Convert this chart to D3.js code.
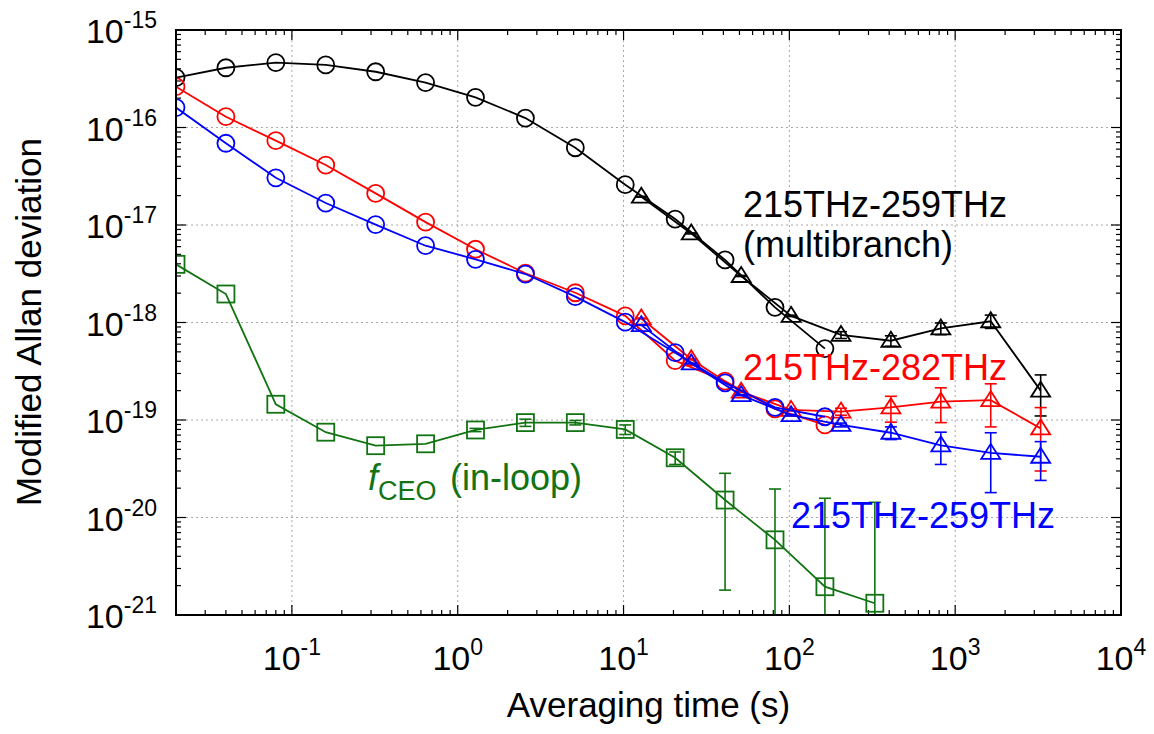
<!DOCTYPE html>
<html>
<head>
<meta charset="utf-8">
<script src="https://cdn.jsdelivr.net/npm/d3@7"></script>
<style>
  body { margin: 0; background: #fff; }
  text { font-family: "Liberation Sans", Arial, Helvetica, sans-serif; }
</style>
</head>
<body>
<div id="chart"></div>
<script>
// averaging times (s)
var tau = [0.02, 0.04, 0.08, 0.16, 0.32, 0.64, 1.28, 2.56, 5.12, 10.24, 20.48, 40.96, 81.92, 163.84, 327.68];
var tauTri = [12.8, 25.6, 51.2, 102.4, 204.8, 409.6, 819.2, 1638.4, 3276.8];

// 215THz-259THz (multibranch), black
var multiCircle = [3.24e-16, 4.10e-16, 4.62e-16, 4.38e-16, 3.73e-16, 2.88e-16, 2.04e-16, 1.25e-16, 6.2e-17, 2.59e-17, 1.15e-17, 4.38e-18, 1.43e-18, 5.4e-19];
var multiTri = [1.95e-17, 8.2e-18, 3.0e-18, 1.17e-18, 7.45e-19, 6.5e-19, 8.7e-19, 1.03e-18, 2.0e-19];
var multiTriErr = [2e-19, 1e-19, 4e-20, 2e-20, 6e-20, 8e-20, 1.2e-19, 1.6e-19, 9e-20];

// 215THz-282THz, red
var redCircle = [2.62e-16, 1.29e-16, 7.33e-17, 4.12e-17, 2.11e-17, 1.07e-17, 5.64e-18, 3.2e-18, 2.02e-18, 1.17e-18, 4.06e-19, 2.5e-19, 1.3e-19, 8.9e-20];
var redTri = [1.1e-18, 4.2e-19, 1.95e-19, 1.27e-19, 1.22e-19, 1.35e-19, 1.54e-19, 1.6e-19, 8.2e-20];
var redTriErr = [1e-20, 5e-21, 3e-21, 3e-21, 1e-20, 4e-20, 6e-20, 7.5e-20, 5.2e-20];

// 215THz-259THz, blue
var blueCircle = [1.6e-16, 6.89e-17, 3.05e-17, 1.68e-17, 1.01e-17, 6.13e-18, 4.45e-18, 3.14e-18, 1.84e-18, 1.01e-18, 4.9e-19, 2.4e-19, 1.35e-19, 1.08e-19];
var blueTri = [9.4e-19, 3.8e-19, 1.8e-19, 1.12e-19, 8.9e-20, 7.4e-20, 5.5e-20, 4.6e-20, 4.2e-20];
var blueTriErr = [5e-21, 3e-21, 2e-21, 2e-21, 4e-21, 1.1e-20, 2e-20, 2.8e-20, 1.8e-20];

// fCEO (in-loop), green
var ceoSquare = [3.95e-18, 1.96e-18, 1.45e-19, 7.5e-20, 5.45e-20, 5.7e-20, 7.9e-20, 9.4e-20, 9.4e-20, 8.0e-20, 4.1e-20, 1.51e-20, 5.9e-21, 1.95e-21, 1.32e-21];
var ceoErr = [0, 0, 0, 0, 0, 0, 3e-21, 8e-21, 5e-21, 9e-21, 6e-21, 1.33e-20, 1.37e-20, 1.38e-20, 1.3e-20];

var xTickExp = [-1, 0, 1, 2, 3, 4];
var yTickExp = [-15, -16, -17, -18, -19, -20, -21];

var width = 1154, height = 734;
var margin = { top: 30, right: 33, bottom: 119, left: 176 };
var w = width - margin.left - margin.right;
var h = height - margin.top - margin.bottom;

var dark_green = '#117311';

var svg = d3.select('#chart').append('svg')
    .attr('width', width)
    .attr('height', height);

var x = d3.scaleLog().domain([0.02, 1e4]).range([0, w]);
var y = d3.scaleLog().domain([1e-21, 1e-15]).range([h, 0]);

var g = svg.append('g').attr('transform', `translate(${margin.left},${margin.top})`);

svg.append('defs').append('clipPath').attr('id', 'plotclip')
    .append('rect').attr('x', 0).attr('y', 0).attr('width', w).attr('height', h);

// grid at major ticks
var majorX = xTickExp.map(function(e) { return Math.pow(10, e); });
var majorY = yTickExp.map(function(e) { return Math.pow(10, e); });

g.append('g').selectAll('line.gx')
    .data(majorX.filter(function(v) { return v < 1e4; }))
    .enter().append('line')
    .attr('x1', d => x(d)).attr('x2', d => x(d))
    .attr('y1', 0).attr('y2', h)
    .attr('stroke', '#a8a8a8').attr('stroke-width', 1).attr('stroke-dasharray', '2,3');

g.append('g').selectAll('line.gy')
    .data(majorY.filter(function(v) { return v > 1e-21 && v < 1e-15; }))
    .enter().append('line')
    .attr('x1', 0).attr('x2', w)
    .attr('y1', d => y(d)).attr('y2', d => y(d))
    .attr('stroke', '#a8a8a8').attr('stroke-width', 1).attr('stroke-dasharray', '2,3');

// minor tick values
var minorX = [];
[-2, -1, 0, 1, 2, 3].forEach(function(e) {
    for (var k = 2; k <= 9; k++) {
        var v = k * Math.pow(10, e);
        if (v > 0.02 && v < 1e4) minorX.push(v);
    }
});
var minorY = [];
[-21, -20, -19, -18, -17, -16].forEach(function(e) {
    for (var k = 2; k <= 9; k++) minorY.push(k * Math.pow(10, e));
});

function tickLines(data, scale, horizontal, len, at, dir) {
    g.append('g').selectAll('line')
        .data(data).enter().append('line')
        .attr('x1', d => horizontal ? scale(d) : at)
        .attr('x2', d => horizontal ? scale(d) : at + dir * len)
        .attr('y1', d => horizontal ? at : scale(d))
        .attr('y2', d => horizontal ? at + dir * len : scale(d))
        .attr('stroke', '#000').attr('stroke-width', 1.2);
}
tickLines(majorX, x, true, 10, h, -1);
tickLines(minorX, x, true, 5, h, -1);
tickLines(majorX, x, true, 10, 0, 1);
tickLines(minorX, x, true, 5, 0, 1);
tickLines(majorY, y, false, 10, 0, 1);
tickLines(minorY, y, false, 5, 0, 1);
tickLines(majorY, y, false, 10, w, -1);
tickLines(minorY, y, false, 5, w, -1);

// tick labels
var xl = g.append('g').selectAll('text')
    .data(xTickExp).enter().append('text')
    .attr('x', d => x(Math.pow(10, d)))
    .attr('y', h + 55)
    .attr('text-anchor', 'middle')
    .style('font-size', '34px');
xl.append('tspan').text('10');
xl.append('tspan').attr('dy', -15).style('font-size', '23px').text(d => d);

var yl = g.append('g').selectAll('text')
    .data(yTickExp).enter().append('text')
    .attr('x', -19)
    .attr('y', d => y(Math.pow(10, d)) + 13)
    .attr('text-anchor', 'end')
    .style('font-size', '34px');
yl.append('tspan').text('10');
yl.append('tspan').attr('dy', -15).style('font-size', '23px').text(d => d);

// axis titles
svg.append('text')
    .attr('x', margin.left + w / 2)
    .attr('y', 717)
    .attr('text-anchor', 'middle')
    .style('font-size', '35px')
    .text('Averaging time (s)');

svg.append('text')
    .attr('transform', 'translate(41,322) rotate(-90)')
    .attr('text-anchor', 'middle')
    .style('font-size', '35px')
    .text('Modified Allan deviation');

// series
var plot = g.append('g').attr('clip-path', 'url(#plotclip)');

function zip(xs, ys, es) {
    return ys.map(function(v, i) { return { t: xs[i], v: v, e: es ? es[i] : 0 }; });
}

var series = [
    { pts: zip(tau, multiCircle), color: '#000', shape: 'circle' },
    { pts: zip(tauTri, multiTri, multiTriErr), color: '#000', shape: 'triangle' },
    { pts: zip(tau, redCircle), color: '#ff0000', shape: 'circle' },
    { pts: zip(tauTri, redTri, redTriErr), color: '#ff0000', shape: 'triangle' },
    { pts: zip(tau, blueCircle), color: '#0000ff', shape: 'circle' },
    { pts: zip(tauTri, blueTri, blueTriErr), color: '#0000ff', shape: 'triangle' },
    { pts: zip(tau, ceoSquare, ceoErr), color: dark_green, shape: 'square' }
];

var line = d3.line().x(d => x(d.t)).y(d => y(d.v));
var cap = 6;

series.forEach(function(s) {
    var sg = plot.append('g');
    sg.append('path')
        .attr('d', line(s.pts))
        .attr('fill', 'none')
        .attr('stroke', s.color)
        .attr('stroke-width', 1.8);

    var eb = s.pts.filter(d => d.e > 0);
    eb.forEach(function(d) {
        var cx = x(d.t);
        var top = y(d.v + d.e);
        var low = d.v - d.e;
        var bot = low > 0 ? y(low) : h + 20;
        sg.append('line').attr('x1', cx).attr('x2', cx).attr('y1', top).attr('y2', bot)
            .attr('stroke', s.color).attr('stroke-width', 1.6);
        sg.append('line').attr('x1', cx - cap).attr('x2', cx + cap).attr('y1', top).attr('y2', top)
            .attr('stroke', s.color).attr('stroke-width', 1.6);
        if (low > 0) {
            sg.append('line').attr('x1', cx - cap).attr('x2', cx + cap).attr('y1', bot).attr('y2', bot)
                .attr('stroke', s.color).attr('stroke-width', 1.6);
        }
    });

    var marks = sg.selectAll('.m').data(s.pts).enter();
    if (s.shape === 'circle') {
        marks.append('circle')
            .attr('cx', d => x(d.t)).attr('cy', d => y(d.v)).attr('r', 8.5)
            .attr('fill', 'none').attr('stroke', s.color).attr('stroke-width', 1.8);
    } else if (s.shape === 'triangle') {
        marks.append('path')
            .attr('d', function(d) {
                var cx = x(d.t), cy = y(d.v);
                return `M${cx},${cy - 9}L${cx + 9.5},${cy + 6}L${cx - 9.5},${cy + 6}Z`;
            })
            .attr('fill', 'none').attr('stroke', s.color).attr('stroke-width', 1.8);
    } else {
        marks.append('rect')
            .attr('x', d => x(d.t) - 8.5).attr('y', d => y(d.v) - 8.5)
            .attr('width', 17).attr('height', 17)
            .attr('fill', 'none').attr('stroke', s.color).attr('stroke-width', 1.8);
    }
});

// frame
g.append('rect')
    .attr('x', 0).attr('y', 0).attr('width', w).attr('height', h)
    .attr('fill', 'none').attr('stroke', '#000').attr('stroke-width', 2);

// labels
g.append('text').attr('x', 743 - margin.left).attr('y', 217 - margin.top)
    .style('font-size', '36px').attr('fill', '#000').text('215THz-259THz');
g.append('text').attr('x', 743 - margin.left).attr('y', 257 - margin.top)
    .style('font-size', '36px').attr('fill', '#000').text('(multibranch)');
g.append('text').attr('x', 743 - margin.left).attr('y', 380 - margin.top)
    .style('font-size', '36px').attr('fill', '#ff0000').text('215THz-282THz');
g.append('text').attr('x', 791 - margin.left).attr('y', 528 - margin.top)
    .style('font-size', '36px').attr('fill', '#0000ff').text('215THz-259THz');

var ceo = g.append('text').attr('x', 368 - margin.left).attr('y', 490 - margin.top)
    .style('font-size', '36px').attr('fill', dark_green);
ceo.append('tspan').style('font-style', 'italic').text('f');
ceo.append('tspan').attr('dy', 10).style('font-size', '27px').text('CEO');
ceo.append('tspan').attr('dy', -10).attr('x', 450 - margin.left).text('(in-loop)');
</script>
</body>
</html>
